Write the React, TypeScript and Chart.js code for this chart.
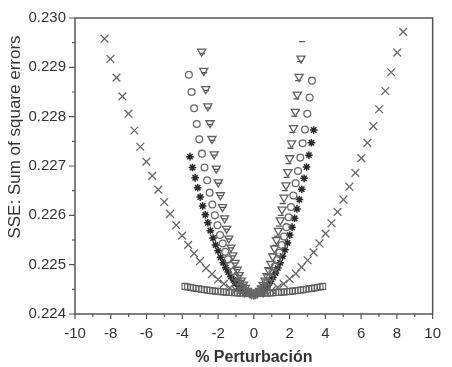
import { useEffect, useRef } from 'react';
import { Chart, registerables } from 'chart.js';

Chart.register(...registerables);

const xAxisTitle = '% Perturbación';
const yAxisTitle = 'SSE: Sum of square errors';
const xTickValues = [-10, -8, -6, -4, -2, 0, 2, 4, 6, 8, 10];
const yTickValues = [0.224, 0.225, 0.226, 0.227, 0.228, 0.229, 0.23];
const centerY = 0.2244;
const squareCenterY = 0.22442;

// × series (same |x| both sides)
const crossX = [0.33, 0.67, 1.0, 1.34, 1.67, 2.0, 2.34, 2.67, 3.01, 3.34, 3.67, 4.01, 4.34, 4.68, 5.01, 5.34, 5.68, 6.01, 6.35, 6.68, 7.01, 7.35, 7.68, 8.02, 8.35];
const crossLeftY = [0.22441, 0.22443, 0.22448, 0.22453, 0.22461, 0.2247, 0.22481, 0.22493, 0.22507, 0.22523, 0.2254, 0.22559, 0.2258, 0.22603, 0.22627, 0.22652, 0.2268, 0.22709, 0.22739, 0.22772, 0.22806, 0.22841, 0.22879, 0.22917, 0.22958];
const crossRightY = [0.22441, 0.22443, 0.22448, 0.22454, 0.22461, 0.22471, 0.22482, 0.22495, 0.22509, 0.22525, 0.22543, 0.22563, 0.22584, 0.22607, 0.22632, 0.22658, 0.22686, 0.22716, 0.22747, 0.22781, 0.22815, 0.22852, 0.2289, 0.2293, 0.22972];

// circle series
const circleLeftX = [0.15, 0.29, 0.44, 0.58, 0.73, 0.87, 1.02, 1.16, 1.31, 1.45, 1.6, 1.74, 1.89, 2.03, 2.18, 2.32, 2.47, 2.61, 2.76, 2.9, 3.05, 3.19, 3.34, 3.48, 3.63];
const circleLeftY = [0.22441, 0.22443, 0.22446, 0.22451, 0.22458, 0.22466, 0.22475, 0.22486, 0.22498, 0.22511, 0.22526, 0.22543, 0.2256, 0.2258, 0.226, 0.22622, 0.22646, 0.22671, 0.22697, 0.22725, 0.22754, 0.22785, 0.22817, 0.2285, 0.22885];
const circleRightX = [0.13, 0.26, 0.39, 0.52, 0.65, 0.78, 0.91, 1.04, 1.17, 1.3, 1.43, 1.56, 1.69, 1.82, 1.95, 2.08, 2.21, 2.34, 2.47, 2.6, 2.73, 2.86, 2.99, 3.12, 3.25];
const circleRightY = [0.22441, 0.22443, 0.22446, 0.22451, 0.22457, 0.22465, 0.22474, 0.22484, 0.22496, 0.22509, 0.22524, 0.2254, 0.22557, 0.22576, 0.22596, 0.22617, 0.2264, 0.22665, 0.2269, 0.22717, 0.22746, 0.22774, 0.22806, 0.22839, 0.22873];

// down-triangle series
const triLeftX = [0.12, 0.23, 0.35, 0.47, 0.58, 0.7, 0.82, 0.93, 1.05, 1.17, 1.28, 1.4, 1.52, 1.64, 1.75, 1.87, 1.99, 2.1, 2.22, 2.34, 2.45, 2.57, 2.69, 2.8, 2.92];
const triLeftY = [0.22441, 0.22443, 0.22447, 0.22453, 0.2246, 0.22468, 0.22479, 0.2249, 0.22504, 0.22519, 0.22535, 0.22553, 0.22573, 0.22594, 0.22617, 0.22641, 0.22667, 0.22695, 0.22724, 0.22755, 0.22787, 0.22821, 0.22856, 0.22893, 0.22932];
const triRightX = [0.11, 0.21, 0.32, 0.42, 0.53, 0.63, 0.74, 0.84, 0.95, 1.06, 1.16, 1.27, 1.37, 1.48, 1.58, 1.69, 1.8, 1.9, 2.01, 2.11, 2.22, 2.32, 2.43, 2.53, 2.64];
const triRightY = [0.22441, 0.22443, 0.22447, 0.22452, 0.22459, 0.22468, 0.22477, 0.22489, 0.22502, 0.22517, 0.22533, 0.2255, 0.22569, 0.2259, 0.22612, 0.22636, 0.22661, 0.22688, 0.22716, 0.22746, 0.22777, 0.2281, 0.22845, 0.22881, 0.22918];

// star series
const starLeftX = [0.14, 0.29, 0.43, 0.57, 0.71, 0.86, 1.0, 1.14, 1.29, 1.43, 1.57, 1.71, 1.86, 2.0, 2.14, 2.28, 2.43, 2.57, 2.71, 2.86, 3.0, 3.14, 3.28, 3.43, 3.57];
const starLeftY = [0.2244, 0.22442, 0.22444, 0.22447, 0.22451, 0.22456, 0.22462, 0.22469, 0.22476, 0.22485, 0.22494, 0.22504, 0.22515, 0.22528, 0.2254, 0.22554, 0.22569, 0.22585, 0.22601, 0.22619, 0.22637, 0.22656, 0.22676, 0.22697, 0.22719];
const starRightX = [0.13, 0.27, 0.4, 0.54, 0.67, 0.8, 0.94, 1.07, 1.21, 1.34, 1.47, 1.61, 1.74, 1.88, 2.01, 2.14, 2.28, 2.41, 2.55, 2.68, 2.81, 2.95, 3.08, 3.22, 3.35];
const starRightY = [0.22441, 0.22442, 0.22445, 0.22449, 0.22453, 0.22459, 0.22466, 0.22474, 0.22483, 0.22493, 0.22504, 0.22517, 0.2253, 0.22544, 0.2256, 0.22576, 0.22594, 0.22613, 0.22632, 0.22653, 0.22675, 0.22698, 0.22722, 0.22747, 0.22773];

// dash series
const dashLeftX = [0.12, 0.23, 0.35, 0.46, 0.58, 0.7, 0.81, 0.93, 1.04, 1.16, 1.28, 1.39, 1.51, 1.62, 1.74, 1.86, 1.97, 2.09, 2.2, 2.32, 2.44, 2.55, 2.67, 2.78, 2.9];
const dashLeftY = [0.22441, 0.22443, 0.22447, 0.22453, 0.2246, 0.22468, 0.22478, 0.2249, 0.22503, 0.22518, 0.22534, 0.22552, 0.22572, 0.22593, 0.22616, 0.2264, 0.22665, 0.22693, 0.22722, 0.22752, 0.22784, 0.22818, 0.22853, 0.22889, 0.22928];
const dashRightX = [0.11, 0.22, 0.32, 0.43, 0.54, 0.65, 0.76, 0.86, 0.97, 1.08, 1.19, 1.3, 1.4, 1.51, 1.62, 1.73, 1.84, 1.94, 2.05, 2.16, 2.27, 2.38, 2.48, 2.59, 2.7];
const dashRightY = [0.22441, 0.22443, 0.22447, 0.22453, 0.2246, 0.22469, 0.2248, 0.22492, 0.22506, 0.22522, 0.22539, 0.22558, 0.22578, 0.226, 0.22624, 0.2265, 0.22677, 0.22705, 0.22736, 0.22768, 0.22801, 0.22836, 0.22873, 0.22912, 0.22952];

// square series (same on both sides)
const squareX = [0.15, 0.31, 0.46, 0.62, 0.77, 0.92, 1.08, 1.23, 1.39, 1.54, 1.69, 1.85, 2.0, 2.16, 2.31, 2.46, 2.62, 2.77, 2.93, 3.08, 3.23, 3.39, 3.54, 3.7, 3.85];
const squareY = [0.22442, 0.224421, 0.224422, 0.224424, 0.224426, 0.224428, 0.224431, 0.224434, 0.224438, 0.224442, 0.224447, 0.224452, 0.224458, 0.224464, 0.22447, 0.224477, 0.224485, 0.224493, 0.224501, 0.22451, 0.224519, 0.224528, 0.224539, 0.224549, 0.22456];

const FONT = "'Liberation Sans', Arial, sans-serif";

function build(lx: number[], ly: number[], rx: number[], ry: number[], cy: number) {
  const left = lx.map((x, i) => ({ x: -x, y: ly[i] })).reverse();
  const right = rx.map((x, i) => ({ x, y: ry[i] }));
  return [...left, { x: 0, y: cy }, ...right];
}

const framePlugin = {
  id: 'frameTicks',
  afterDraw(chart: any) {
    const { ctx, chartArea } = chart;
    const xs = chart.scales.x;
    const ys = chart.scales.y;
    ctx.save();
    ctx.strokeStyle = '#555';
    ctx.lineWidth = 1.5;
    ctx.strokeRect(chartArea.left, chartArea.top, chartArea.right - chartArea.left, chartArea.bottom - chartArea.top);
    ctx.lineWidth = 1.2;
    ctx.beginPath();
    for (let v = -10; v <= 10; v += 1) {
      const px = xs.getPixelForValue(v);
      const len = v % 2 === 0 ? 5 : 3;
      ctx.moveTo(px, chartArea.bottom);
      ctx.lineTo(px, chartArea.bottom + len);
    }
    for (let i = 0; i <= 12; i++) {
      const v = 0.224 + i * 0.0005;
      const py = ys.getPixelForValue(v);
      const len = i % 2 === 0 ? 6 : 3;
      ctx.moveTo(chartArea.left, py);
      ctx.lineTo(chartArea.left - len, py);
    }
    ctx.stroke();
    // axis titles
    ctx.fillStyle = '#333';
    ctx.textAlign = 'center';
    ctx.textBaseline = 'middle';
    ctx.font = `bold 16px ${FONT}`;
    ctx.fillText(xAxisTitle, (chartArea.left + chartArea.right) / 2, 358);
    ctx.translate(15, 137);
    ctx.rotate(-Math.PI / 2);
    ctx.font = `17px ${FONT}`;
    ctx.fillText(yAxisTitle, 0, 0);
    ctx.restore();
  },
};

export default function App() {
  const ref = useRef<HTMLCanvasElement | null>(null);
  useEffect(() => {
    if (!ref.current) return;
    const hollow = 'rgba(0,0,0,0)';
    const chart = new Chart(ref.current, {
      type: 'scatter',
      data: {
        datasets: [
          { label: 'x', data: build(crossX, crossLeftY, crossX, crossRightY, centerY), pointStyle: 'crossRot', pointRadius: 5.5, borderColor: '#666', backgroundColor: hollow, borderWidth: 1.3 },
          { label: 'o', data: build(circleLeftX, circleLeftY, circleRightX, circleRightY, centerY), pointStyle: 'circle', pointRadius: 3.4, borderColor: '#6a6a6a', backgroundColor: hollow, borderWidth: 1.3 },
          { label: 'v', data: build(triLeftX, triLeftY, triRightX, triRightY, centerY), pointStyle: 'triangle', rotation: 180, pointRadius: 4.7, borderColor: '#606060', backgroundColor: hollow, borderWidth: 1.3 },
          { label: '*', data: build(starLeftX, starLeftY, starRightX, starRightY, centerY), pointStyle: 'star', pointRadius: 3.8, borderColor: '#2a2a2a', backgroundColor: hollow, borderWidth: 1.5 },
          { label: '-', data: build(dashLeftX, dashLeftY, dashRightX, dashRightY, centerY), pointStyle: 'line', pointRadius: 3, borderColor: '#555', backgroundColor: hollow, borderWidth: 1.3 },
          { label: 's', data: build(squareX, squareY, squareX, squareY, squareCenterY), pointStyle: 'rect', pointRadius: 4.2, borderColor: '#606060', backgroundColor: hollow, borderWidth: 1.1 },
        ],
      },
      options: {
        animation: false,
        responsive: false,
        maintainAspectRatio: false,
        layout: { padding: { top: 15, right: 10, left: 0, bottom: 0 } },
        plugins: { legend: { display: false }, tooltip: { enabled: false }, title: { display: false } },
        scales: {
          x: {
            type: 'linear',
            min: -10,
            max: 10,
            afterFit: (s: any) => { s.height = 53; },
            afterBuildTicks: (s: any) => { s.ticks = xTickValues.map((v) => ({ value: v })); },
            grid: { display: false, drawTicks: false },
            border: { display: false },
            ticks: { color: '#333', font: { family: FONT, size: 15 }, padding: 11, maxRotation: 0, callback: (v: any) => String(v) },
          },
          y: {
            type: 'linear',
            min: 0.224,
            max: 0.23,
            afterFit: (s: any) => { s.width = 75; },
            afterBuildTicks: (s: any) => { s.ticks = yTickValues.map((v) => ({ value: v })); },
            grid: { display: false, drawTicks: false },
            border: { display: false },
            ticks: { color: '#333', font: { family: FONT, size: 15 }, padding: 9, callback: (v: any) => Number(v).toFixed(3) },
          },
        },
      },
      plugins: [framePlugin],
    });
    return () => chart.destroy();
  }, []);
  return (
    <div style={{ position: 'fixed', left: 0, top: 0, width: 452, height: 367, background: '#fff' }}>
      <canvas ref={ref} width={452} height={367} style={{ width: 452, height: 367 }} />
    </div>
  );
}
